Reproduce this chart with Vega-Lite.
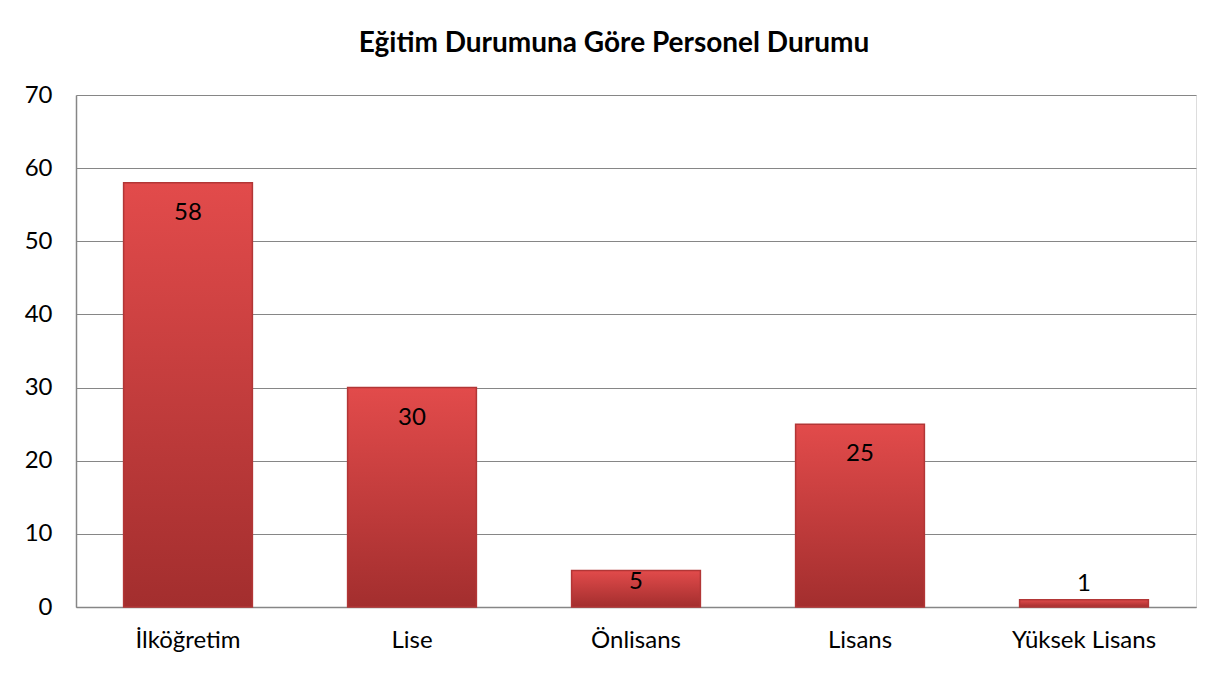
{
  "$schema": "https://vega.github.io/schema/vega-lite/v6.json",
  "autosize": {"type": "none"},
  "width": 1120,
  "height": 512,
  "padding": {"left": 76, "top": 95, "right": 32, "bottom": 68},
  "background": "white",
  "title": {
    "text": "Eğitim Durumuna Göre Personel Durumu",
    "font": "Lato",
    "fontSize": 28,
    "fontWeight": "bold",
    "color": "#000000",
    "anchor": "middle",
    "dx": -22,
    "offset": 25
  },
  "data": {
    "values": [
      {"egitim": "İlköğretim", "sayi": 58},
      {"egitim": "Lise", "sayi": 30},
      {"egitim": "Önlisans", "sayi": 5},
      {"egitim": "Lisans", "sayi": 25},
      {"egitim": "Yüksek Lisans", "sayi": 1}
    ]
  },
  "encoding": {
    "x": {
      "field": "egitim",
      "type": "nominal",
      "sort": null,
      "scale": {"paddingInner": 0.425, "paddingOuter": 0.2125},
      "axis": {
        "title": null,
        "labelAngle": 0,
        "labelFont": "Lato",
        "labelFontSize": 24,
        "labelColor": "#000000",
        "labelPadding": 21,
        "ticks": false,
        "domainColor": "#868686",
        "domainWidth": 1.5
      }
    },
    "y": {
      "field": "sayi",
      "type": "quantitative",
      "scale": {"domain": [0, 70]},
      "axis": {
        "title": null,
        "values": [0, 10, 20, 30, 40, 50, 60, 70],
        "labelFont": "Lato",
        "labelFontSize": 24,
        "labelColor": "#000000",
        "labelPadding": 24,
        "ticks": false,
        "domainColor": "#868686",
        "domainWidth": 1.5,
        "gridColor": "#868686",
        "gridWidth": 1
      }
    }
  },
  "layer": [
    {
      "mark": {
        "type": "bar",
        "stroke": "#b23636",
        "strokeWidth": 1.5,
        "color": {
          "gradient": "linear",
          "x1": 0, "y1": 0, "x2": 0, "y2": 1,
          "stops": [
            {"offset": 0, "color": "#e24b4b"},
            {"offset": 1, "color": "#a32e2e"}
          ]
        }
      }
    },
    {
      "transform": [{"filter": "datum.sayi >= 10"}],
      "mark": {
        "type": "text",
        "font": "Lato",
        "fontSize": 24,
        "color": "#000000",
        "baseline": "middle",
        "dy": 30
      },
      "encoding": {"text": {"field": "sayi", "type": "quantitative"}}
    },
    {
      "transform": [{"filter": "datum.sayi >= 3 && datum.sayi < 10"}],
      "mark": {
        "type": "text",
        "font": "Lato",
        "fontSize": 24,
        "color": "#000000",
        "baseline": "middle",
        "dy": 12
      },
      "encoding": {"text": {"field": "sayi", "type": "quantitative"}}
    },
    {
      "transform": [{"filter": "datum.sayi < 3"}],
      "mark": {
        "type": "text",
        "font": "Lato",
        "fontSize": 24,
        "color": "#000000",
        "baseline": "middle",
        "dy": -16
      },
      "encoding": {"text": {"field": "sayi", "type": "quantitative"}}
    }
  ]
}
